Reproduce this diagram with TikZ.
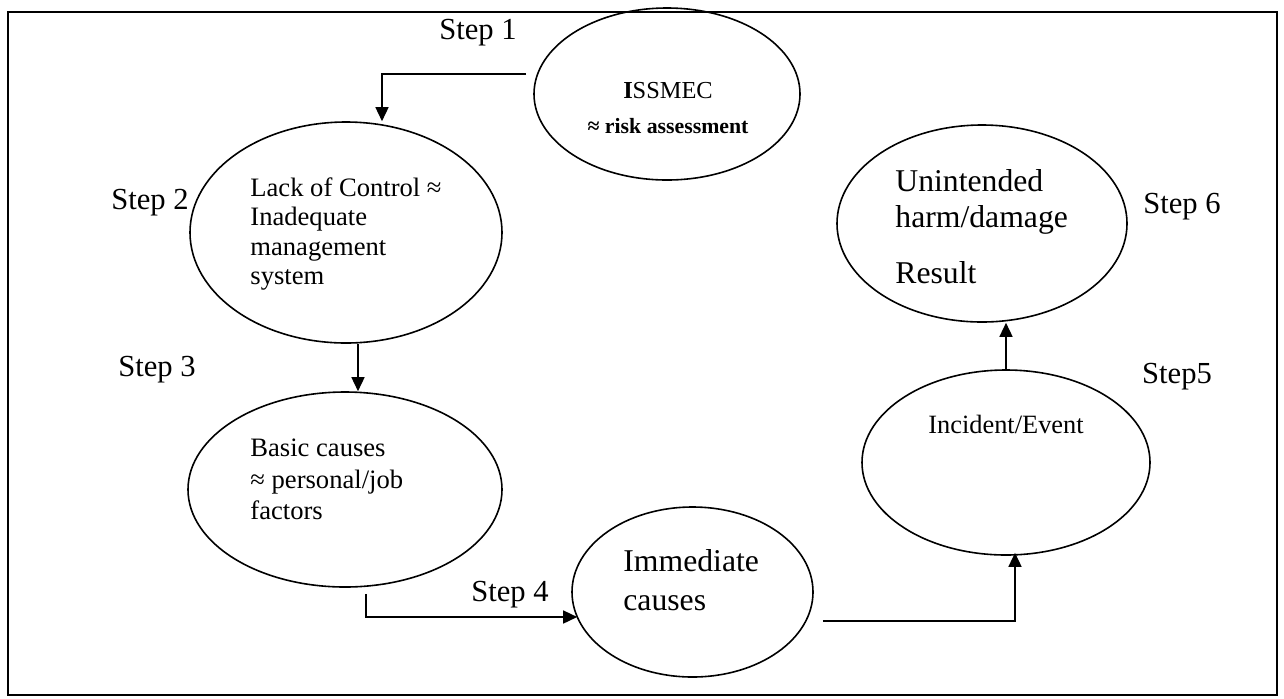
\documentclass[tikz,border=0pt]{standalone}
\usepackage{fontspec}
\setmainfont{Liberation Serif}
\usetikzlibrary{shapes.geometric,arrows.meta}

\tikzset{
		stage/.style={
			draw, ellipse, line width=0.8pt, inner sep=0pt},
		steplabel/.style={
			inner sep=0pt, font=\fontsize{15.3}{18}\selectfont},
		body/.style={
			align=left, inner sep=0pt, anchor=west},
		flow/.style={draw, line width=0.75pt, -{Triangle[length=7pt,width=6.5pt]}},
	}

\begin{document}
\begin{tikzpicture}[x=0.5pt, y=-0.5pt]
			\useasboundingbox (0,0) rectangle (1284,698);
			\draw[line width=0.8pt] (8,12) rectangle (1277,695);
			% stages
			\node[stage, minimum width=133pt, minimum height=86pt] (issmec) at (667,94) {};
			\node[stage, minimum width=156pt, minimum height=110.5pt] (lack) at (346,232.5) {};
			\node[stage, minimum width=157pt, minimum height=97.5pt] (basic) at (345,489.5) {};
			\node[stage, minimum width=120.5pt, minimum height=85pt] (immed) at (692.5,592) {};
			\node[stage, minimum width=144pt, minimum height=92.5pt] (incid) at (1006,462.5) {};
			\node[stage, minimum width=145pt, minimum height=98.5pt] (result) at (982,223.5) {};
			% texts
			\node[anchor=base, inner sep=0pt, font=\fontsize{12.2}{14}\selectfont] (issmec-a) at (668,98) {\textbf{I}SSMEC};
			\node[anchor=base, inner sep=0pt, font=\fontsize{10.9}{13}\selectfont\bfseries] (issmec-b) at (668,133) {≈ risk assessment};
			\node[body, font=\fontsize{13.3}{14.65}\selectfont] (lack-t) at (250,234) {Lack of Control ≈\\Inadequate\\management\\system};
			\node[body, font=\fontsize{13.3}{15.75}\selectfont] (basic-t) at (250,479.5) {Basic causes\\≈ personal/job\\factors};
			\node[body, font=\fontsize{15.85}{19.5}\selectfont] (immed-t) at (623,580) {Immediate\\causes};
			\node[inner sep=0pt, font=\fontsize{13.2}{15}\selectfont] (incid-t) at (1006,424) {Incident/Event};
			\node[body, font=\fontsize{15.85}{18}\selectfont] (result-t) at (895,227) {Unintended\\harm/damage\\[10pt]Result};
			% step labels
			\node[steplabel] (s1) at (478,33) {Step 1};
			\node[steplabel] (s2) at (150,203) {Step 2};
			\node[steplabel] (s3) at (157,370) {Step 3};
			\node[steplabel] (s4) at (510,595) {Step 4};
			\node[steplabel] (s5) at (1177,377) {Step5};
			\node[steplabel] (s6) at (1182,207) {Step 6};
			% connectors
			\draw[flow] ([shift={(-7,-20)}]issmec.west) -| ([shift={(36,0)}]lack.north);
			\draw[flow] ([shift={(12,0)}]lack.south) -- ([shift={(13,0)}]basic.north);
			\draw[flow] ([shift={(21,6)}]basic.south) |- ([shift={(6,25)}]immed.west);
			\draw[flow] ([shift={(9,29)}]immed.east) -| ([shift={(9,-3)}]incid.south);
			\draw[flow] (incid.north) -- (incid.north |- result.south);
			\end{tikzpicture}
\end{document}
